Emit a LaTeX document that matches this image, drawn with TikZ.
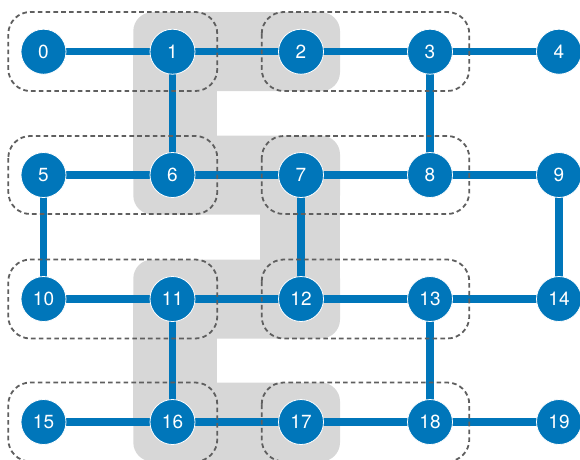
\documentclass[tikz,border=0pt]{standalone}
\usepackage{fontspec}
\setsansfont{TeX Gyre Heros}
\usetikzlibrary{backgrounds}
\definecolor{nodeblue}{RGB}{0,118,186}
\definecolor{bggray}{RGB}{215,215,215}
\definecolor{dashgray}{RGB}{95,95,95}
\begin{document}
\begin{tikzpicture}[x=1pt,y=-1pt,
  vertex/.style={circle, fill=nodeblue, draw=white, line width=0.8pt, minimum size=45pt, inner sep=0pt, text=white, font=\sffamily\fontsize{19}{19}\selectfont},
  link/.style={draw=nodeblue, line width=7.5pt},
  group/.style={draw=dashgray, line width=1.8pt, dash pattern=on 4.6pt off 3.2pt, rounded corners=22pt},
  bar/.style={fill=bggray, rounded corners=19pt},
  column/.style={fill=bggray}]
\useasboundingbox (0,0) rectangle (580,459);
% nodes
\node[vertex] (n0)  at (43.5,51.7) {0};
\node[vertex] (n1)  at (172.5,51.7) {1};
\node[vertex] (n2)  at (301,51.7) {2};
\node[vertex] (n3)  at (430,51.7) {3};
\node[vertex] (n4)  at (559,51.7) {4};
\node[vertex] (n5)  at (43.5,175) {5};
\node[vertex] (n6)  at (172.5,175) {6};
\node[vertex] (n7)  at (301,175) {7};
\node[vertex] (n8)  at (430,175) {8};
\node[vertex] (n9)  at (559,175) {9};
\node[vertex] (n10) at (43.5,299) {10};
\node[vertex] (n11) at (172.5,299) {11};
\node[vertex] (n12) at (301,299) {12};
\node[vertex] (n13) at (430,299) {13};
\node[vertex] (n14) at (559,299) {14};
\node[vertex] (n15) at (43.5,422) {15};
\node[vertex] (n16) at (172.5,422) {16};
\node[vertex] (n17) at (301,422) {17};
\node[vertex] (n18) at (430,422) {18};
\node[vertex] (n19) at (559,422) {19};
\begin{pgfonlayer}{background}
  % gray snake band
  \fill[bar] (133.3,12.2) rectangle (340,91.2);
  \fill[bar] (133.3,135.5) rectangle (340,214.5);
  \fill[bar] (133.3,259.5) rectangle (340,338.5);
  \fill[bar] (133.3,382.5) rectangle (340,461.5);
  \fill[column] (133.3,51.7) rectangle (217,175);
  \fill[column] (260,175) rectangle (340,299);
  \fill[column] (133.3,299) rectangle (217,422);
  % connectors
  \foreach \a/\b in {0/1,1/2,2/3,3/4,1/6,3/8,5/6,6/7,7/8,8/9,5/10,7/12,9/14,
                     10/11,11/12,12/13,13/14,11/16,13/18,15/16,16/17,17/18,18/19}
    \draw[link] (n\a.center) -- (n\b.center);
\end{pgfonlayer}
% dashed groups
\draw[group] (8.3,12) rectangle (217.3,91);
\draw[group] (261.7,12) rectangle (469.3,91);
\draw[group] (8.3,136) rectangle (217.3,214);
\draw[group] (261.7,136) rectangle (469.3,214);
\draw[group] (8.3,259.5) rectangle (217.3,338.5);
\draw[group] (261.7,259.5) rectangle (469.3,338.5);
\draw[group] (8.3,382.5) rectangle (217.3,461.5);
\draw[group] (261.7,382.5) rectangle (469.3,461.5);
\end{tikzpicture}
\end{document}
